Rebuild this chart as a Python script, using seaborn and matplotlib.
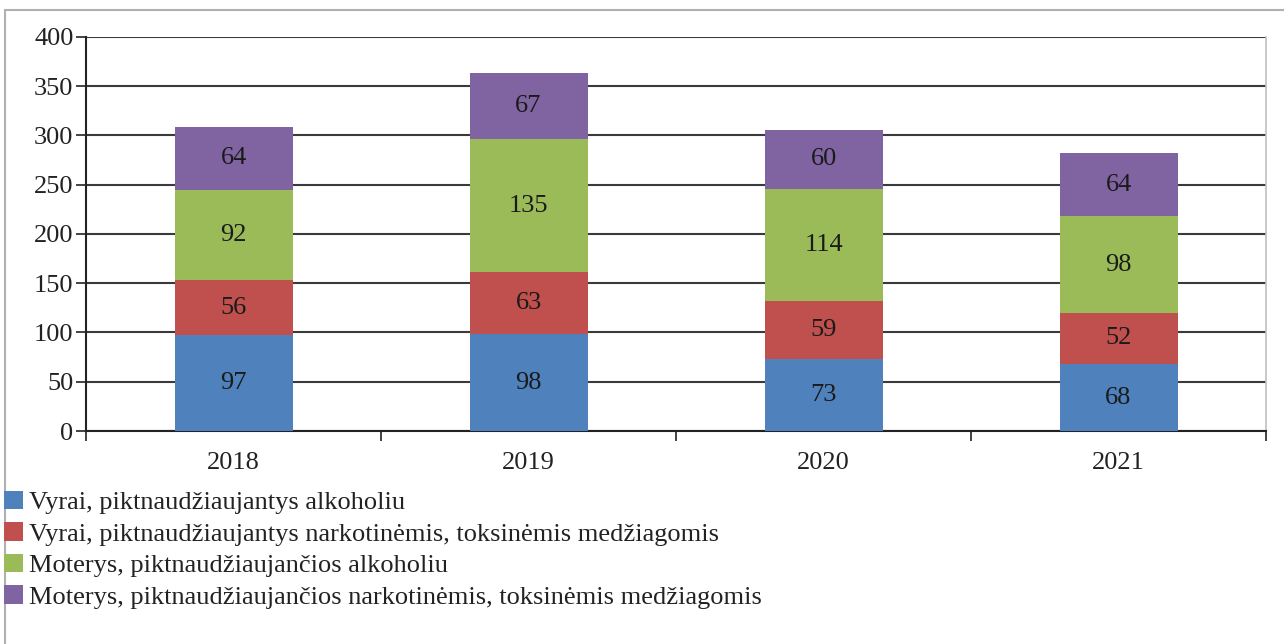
import numpy as np
import pandas as pd
import seaborn as sns
import matplotlib.pyplot as plt
from matplotlib.patches import Patch
from matplotlib.lines import Line2D

years = ["2018", "2019", "2020", "2021"]
vyrai_alk = [97, 98, 73, 68]
vyrai_nark = [56, 63, 59, 52]
moterys_alk = [92, 135, 114, 98]
moterys_nark = [64, 67, 60, 64]

series_names = [
    "Vyrai, piktnaudžiaujantys alkoholiu",
    "Vyrai, piktnaudžiaujantys narkotinėmis, toksinėmis medžiagomis",
    "Moterys, piktnaudžiaujančios alkoholiu",
    "Moterys, piktnaudžiaujančios narkotinėmis, toksinėmis medžiagomis",
]
colors = ["#4F81BD", "#C0504D", "#9BBB59", "#8064A2"]

sns.set_theme(style="white")
plt.rcParams["font.family"] = ["Liberation Serif", "DejaVu Serif"]
fs = 19

df = pd.DataFrame({"year": years,
                   series_names[0]: vyrai_alk,
                   series_names[1]: vyrai_nark,
                   series_names[2]: moterys_alk,
                   series_names[3]: moterys_nark})
cum = df[series_names].cumsum(axis=1)

fig = plt.figure(figsize=(12.84, 6.44), dpi=100)
ax = fig.add_axes([0.067, 0.3307, 0.919, 0.612])

# stacked bars: draw the cumulative totals from the top series down
for i in range(len(series_names) - 1, -1, -1):
    sns.barplot(x=df["year"], y=cum[series_names[i]], color=colors[i],
                width=0.4, saturation=1, linewidth=0, edgecolor="none",
                ax=ax, zorder=3)

# values in the middle of each segment
for i, name in enumerate(series_names):
    for j in range(len(years)):
        v = df[name][j]
        ax.text(j, cum[name][j] - v / 2, str(v), ha="center", va="center",
                fontsize=fs, color="#1a1a1a", zorder=4)

ax.set_ylim(0, 400)
ax.set_xlim(-0.5, 3.5)
ax.set_yticks(range(0, 401, 50))
ax.set_xlabel("")
ax.set_ylabel("")
ax.yaxis.grid(True, color="#3a3a3a", linewidth=1.5, zorder=0)
ax.set_axisbelow(True)

ax.tick_params(axis="y", which="major", left=True, length=7, width=1.2,
               color="#222222", labelsize=fs, pad=2, labelcolor="#222222")
ax.tick_params(axis="x", which="major", bottom=False, labelsize=fs,
               pad=9, labelcolor="#222222")
ax.set_xticks([-0.5, 0.5, 1.5, 2.5, 3.5], minor=True)
ax.tick_params(axis="x", which="minor", bottom=True, direction="out",
               length=7, width=1.2, color="#222222")

for s in ["left", "bottom"]:
    ax.spines[s].set_color("#222222")
    ax.spines[s].set_linewidth(1.5)
ax.spines["top"].set_visible(False)
ax.spines["right"].set_color("#c0c0c0")
ax.spines["right"].set_linewidth(1.2)

handles = [Patch(facecolor=c, edgecolor="none") for c in colors]
fig.legend(handles, series_names, loc="upper left",
           bbox_to_anchor=(-0.003, 0.25), frameon=False, fontsize=fs,
           handlelength=0.7, handleheight=0.7, handletextpad=0.25,
           labelspacing=0.3, borderpad=0.0, borderaxespad=0.3)
for t in fig.legends[0].get_texts():
    t.set_color("#222222")

# outer chart frame (top and left edges visible)
fig.add_artist(Line2D([0.004, 1.0], [0.985, 0.985], color="#b0b0b0",
                      linewidth=1.5, transform=fig.transFigure))
fig.add_artist(Line2D([0.004, 0.004], [0.0, 0.985], color="#b0b0b0",
                      linewidth=1.5, transform=fig.transFigure))

fig.savefig("out.png", dpi=100)
